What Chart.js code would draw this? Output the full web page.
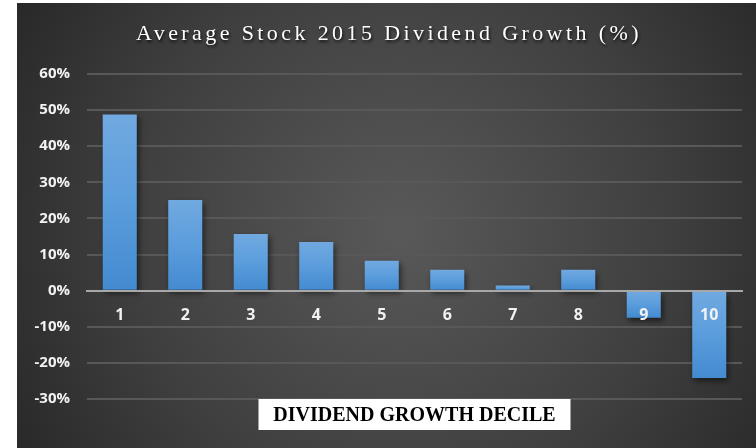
<!DOCTYPE html>
<html>
<head>
<meta charset="utf-8">
<script src="https://cdn.jsdelivr.net/npm/chart.js@4/dist/chart.umd.min.js"></script>
<style>
  html, body { margin: 0; padding: 0; background: #ffffff; }
  #wrap { width: 756px; height: 448px; position: relative; }
</style>
</head>
<body>
<div id="wrap"><canvas id="c" width="756" height="448"></canvas></div>
<script>
const chartTitle = "Average Stock 2015 Dividend Growth (%)";
const axisTitle = "DIVIDEND GROWTH DECILE";
const categories = ["1", "2", "3", "4", "5", "6", "7", "8", "9", "10"];
const growthValues = [48.8, 25.1, 15.7, 13.5, 8.3, 5.8, 1.4, 5.8, -7.5, -24.2];
const yMin = -30, yMax = 60, yStep = 10;

const bgPlugin = {
  id: 'bg',
  beforeDraw(chart) {
    const ctx = chart.ctx;
    const W = chart.width, H = chart.height;
    ctx.save();
    ctx.fillStyle = '#ffffff';
    ctx.fillRect(0, 0, W, H);
    const x0 = 17, y0 = 3;
    const g = ctx.createRadialGradient(400, 230, 10, 400, 230, 480);
    g.addColorStop(0, '#585858');
    g.addColorStop(0.55, '#3f3f3f');
    g.addColorStop(1, '#242424');
    ctx.fillStyle = g;
    ctx.fillRect(x0, y0, W - x0, H - y0);
    ctx.restore();
  }
};

const shadowPlugin = {
  id: 'barShadow',
  beforeDatasetsDraw(chart) {
    const ctx = chart.ctx;
    ctx.save();
    ctx.shadowColor = 'rgba(0,0,0,0.55)';
    ctx.shadowBlur = 6;
    ctx.shadowOffsetX = 2;
    ctx.shadowOffsetY = 3;
  },
  afterDatasetsDraw(chart) {
    chart.ctx.restore();
  }
};

const textPlugin = {
  id: 'texts',
  afterDraw(chart) {
    const ctx = chart.ctx;
    const area = chart.chartArea;
    ctx.save();
    ctx.font = '22px "Liberation Serif", serif';
    ctx.letterSpacing = '3.4px';
    ctx.textAlign = 'center';
    ctx.textBaseline = 'alphabetic';
    ctx.shadowColor = 'rgba(0,0,0,0.8)';
    ctx.shadowBlur = 3;
    ctx.shadowOffsetX = 1;
    ctx.shadowOffsetY = 2;
    ctx.fillStyle = '#ffffff';
    ctx.fillText(chartTitle, 389, 40);
    ctx.restore();

    ctx.save();
    const cx = (area.left + area.right) / 2;
    const top = area.bottom;
    const bw = 312, bh = 31;
    ctx.fillStyle = '#ffffff';
    ctx.fillRect(cx - bw / 2, top, bw, bh);
    ctx.font = 'bold 20px "Liberation Serif", serif';
    ctx.fillStyle = '#000000';
    ctx.textAlign = 'center';
    ctx.textBaseline = 'middle';
    ctx.fillText(axisTitle, cx, top + bh / 2 + 1);
    ctx.restore();
  }
};

function barGradient(context) {
  const chart = context.chart;
  const area = chart.chartArea;
  if (!area) return '#5b9bd5';
  const v = context.raw;
  const ys = chart.scales.y;
  const yv = ys.getPixelForValue(v);
  const y0 = ys.getPixelForValue(0);
  const topY = Math.min(yv, y0), botY = Math.max(yv, y0);
  if (botY - topY < 1) return '#5b9bd5';
  const g = chart.ctx.createLinearGradient(0, topY, 0, botY);
  g.addColorStop(0, '#71a9e0');
  g.addColorStop(0.5, '#5b9ddc');
  g.addColorStop(1, '#438ad0');
  return g;
}

new Chart(document.getElementById('c'), {
  type: 'bar',
  data: {
    labels: categories,
    datasets: [{
      data: growthValues,
      backgroundColor: barGradient,
      borderWidth: 0,
      categoryPercentage: 1.0,
      barPercentage: 0.52
    }]
  },
  options: {
    responsive: false,
    animation: false,
    devicePixelRatio: 1,
    layout: { padding: { left: 17, top: 74, right: 14, bottom: 49 } },
    plugins: {
      legend: { display: false },
      title: { display: false },
      tooltip: { enabled: false }
    },
    scales: {
      x: {
        position: { y: 0 },
        grid: { display: false, drawTicks: false },
        border: { display: true, color: '#a8a8a8', width: 2, z: 1 },
        ticks: {
          z: 1,
          color: '#f2f2f2',
          padding: 15,
          font: { family: '"Open Sans", sans-serif', size: 16, weight: 'bold' }
        }
      },
      y: {
        min: yMin,
        max: yMax,
        afterFit(scale) { scale.width = 70; },
        grid: { color: '#585858', lineWidth: 2, drawTicks: false },
        border: { display: false },
        ticks: {
          stepSize: yStep,
          padding: 17,
          color: '#f2f2f2',
          font: { family: '"Open Sans", sans-serif', size: 15, weight: 'bold' },
          callback: (v) => v + '%'
        }
      }
    }
  },
  plugins: [bgPlugin, shadowPlugin, textPlugin]
});
</script>
</body>
</html>
